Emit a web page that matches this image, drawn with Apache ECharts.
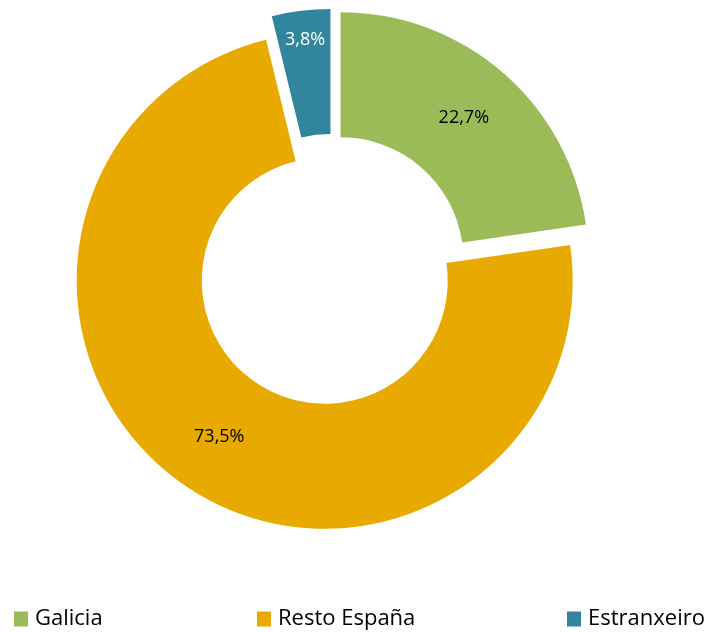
<!DOCTYPE html>
<html lang="es">
<head>
    <meta charset="UTF-8">
    <title>Distribución</title>
    <script src="https://cdn.jsdelivr.net/npm/echarts@6/dist/echarts.min.js"></script>
    <style>
        html, body { margin: 0; padding: 0; background: #fff; }
    </style>
</head>
<body>
    <div id="myChart" style="width: 711px;height: 632px;"></div>
    <script>
        var categories = ['Galicia', 'Resto España', 'Estranxeiro'];
        var values = [22.7, 73.5, 3.8];
        var colors = ['#9BBB59', '#E8AA00', '#31859C'];
        var labelColors = ['#000', '#000', '#fff'];

        var pieData = categories.map(function (name, i) {
            return {
                name: name,
                value: values[i],
                selected: true,
                itemStyle: { color: colors[i] },
                label: { color: labelColors[i] }
            };
        });

        var legendLeft = [14, 257, 567];
        var legends = categories.map(function (name, i) {
            return {
                data: [name],
                left: legendLeft[i],
                top: 608,
                padding: 0,
                icon: 'rect',
                itemWidth: 14,
                itemHeight: 15,
                itemGap: 6,
                selectedMode: false,
                textStyle: { fontFamily: 'Open Sans', fontSize: 22, color: '#000', padding: [0, 0, 0, 2] }
            };
        });

        var myChart = echarts.init(document.getElementById('myChart'));
        var option = {
            animation: false,
            legend: legends,
            series: [{
                type: 'pie',
                center: [332, 270],
                radius: [123, 248],
                startAngle: 90,
                clockwise: true,
                selectedMode: 'multiple',
                selectedOffset: 13,
                emphasis: { disabled: true },
                label: {
                    show: true,
                    position: 'inside',
                    fontFamily: 'Open Sans',
                    fontSize: 18,
                    formatter: function (p) {
                        return p.value.toFixed(1).replace('.', ',') + '%';
                    }
                },
                labelLine: { show: false },
                labelLayout: function (params) {
                    if (params.dataIndex === 2) {
                        return { dx: -3, dy: -30 };
                    }
                },
                data: pieData
            }]
        };

        myChart.setOption(option);
    </script>
</body>
</html>
